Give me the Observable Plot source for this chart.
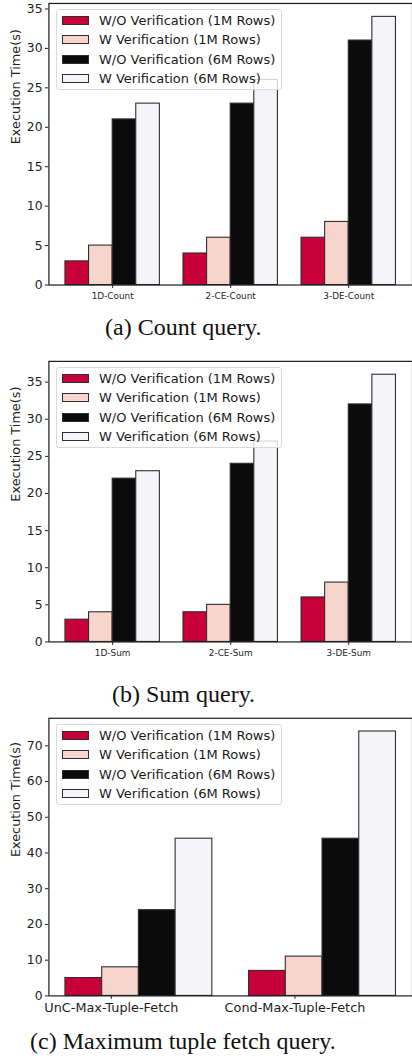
<!DOCTYPE html>
<html>
<head>
<meta charset="utf-8">
<script src="https://cdn.jsdelivr.net/npm/d3@7"></script>
<script src="https://cdn.jsdelivr.net/npm/@observablehq/plot@0.6"></script>
<style>
  body { margin: 0; background: #fff; }
  #page { position: relative; width: 412px; height: 1059px; overflow: hidden; background: #fff; }
  .panel { position: absolute; left: 0; }
  .legend {
    position: absolute; left: 56px; width: 226px; height: 81px;
    border: 1px solid #d9d9d9; border-radius: 3px; background: rgba(255,255,255,0.8);
    box-sizing: border-box; font-family: "DejaVu Sans", sans-serif; font-size: 13px; color: #1a1a1a;
  }
  .legend .row { position: absolute; left: 0; height: 19px; display: flex; align-items: center; white-space: nowrap; }
  .legend .sw { width: 27px; height: 9px; border: 1px solid #2e2e2e; box-sizing: border-box; margin-left: 5px; margin-right: 10px; }
  .caption { position: absolute; font-family: "Liberation Serif", "Times New Roman", serif; font-size: 24px; line-height: 24px; color: #111; white-space: nowrap; }
</style>
</head>
<body>
<div id="page"></div>
<script>
// Series shared by all three panels
const seriesNames = [
  "W/O Verification (1M Rows)",
  "W Verification (1M Rows)",
  "W/O Verification (6M Rows)",
  "W Verification (6M Rows)"
];
const seriesColors = ["#c8003a", "#f7d4cc", "#0b0b0b", "#f4f4f9"];

// (a) Count query
const countQueries = ["1D-Count", "2-CE-Count", "3-DE-Count"];
const countWo1M = [3, 4, 6];
const countW1M = [5, 6, 8];
const countWo6M = [21, 23, 31];
const countW6M = [23, 26, 34];
const countTicks = [0, 5, 10, 15, 20, 25, 30, 35];

// (b) Sum query
const sumQueries = ["1D-Sum", "2-CE-Sum", "3-DE-Sum"];
const sumWo1M = [3, 4, 6];
const sumW1M = [4, 5, 8];
const sumWo6M = [22, 24, 32];
const sumW6M = [23, 27, 36];
const sumTicks = [0, 5, 10, 15, 20, 25, 30, 35];

// (c) Maximum tuple fetch query
const fetchQueries = ["UnC-Max-Tuple-Fetch", "Cond-Max-Tuple-Fetch"];
const fetchWo1M = [5, 7];
const fetchW1M = [8, 11];
const fetchWo6M = [24, 44];
const fetchW6M = [44, 74];
const fetchTicks = [0, 10, 20, 30, 40, 50, 60, 70];

const yLabel = "Execution Time(s)";
const captions = ["(a) Count query.", "(b) Sum query.", "(c) Maximum tuple fetch query."];

const page = document.getElementById("page");
const BAR = 0.2; // bar width in group units

function drawPanel({queries, series, yTicks, tickShift, xFont, xPad, svgTop, plotTop, plotBottom, caption, capLeft, capTop}) {
  const rows = [];
  series.forEach((vals, s) => vals.forEach((v, g) => rows.push({g, s, v})));
  const n = queries.length;
  const lo = -2 * BAR, hi = n - 1 + 2 * BAR, pad = 0.05 * (hi - lo);
  const yMax = d3.max(rows, d => d.v) * 1.05;
  const marginBottom = 34;
  const height = plotBottom - svgTop + marginBottom;

  const chart = Plot.plot({
    width: 417,
    height,
    marginLeft: 49,
    marginRight: 0,
    marginTop: plotTop - svgTop,
    marginBottom,
    x: {domain: [lo - pad, hi + pad], axis: null},
    y: {domain: [0, yMax], axis: null},
    style: {fontFamily: "DejaVu Sans, sans-serif", background: "transparent", color: "#1e1e1e", overflow: "visible"},
    marks: [
      Plot.rect(rows, {
        x1: d => d.g + (d.s - 2) * BAR,
        x2: d => d.g + (d.s - 1) * BAR,
        y1: 0,
        y2: "v",
        fill: d => seriesColors[d.s],
        stroke: "#2e2e2e",
        strokeWidth: 1.1
      }),
      Plot.frame({stroke: "#1a1a1a", strokeWidth: 1.2}),
      Plot.axisY(yTicks, {tickSize: 3.5, tickPadding: 3, fontSize: 12.5, label: null}),
      Plot.axisX(queries.map((q, i) => i + tickShift), {
        tickSize: 3.5, tickPadding: xPad, fontSize: xFont, label: null,
        tickFormat: d => queries[Math.round(d - tickShift)]
      }),
      Plot.text([yLabel], {frameAnchor: "left", rotate: -90, dx: -33, fontSize: 13, fill: "#1e1e1e", text: d => d})
    ]
  });

  const wrap = document.createElement("div");
  wrap.className = "panel";
  wrap.style.top = svgTop + "px";
  wrap.appendChild(chart);
  page.appendChild(wrap);

  // legend in the upper-left corner of the axes
  const lg = document.createElement("div");
  lg.className = "legend";
  lg.style.top = (plotTop + 6) + "px";
  seriesNames.forEach((name, i) => {
    const row = document.createElement("div");
    row.className = "row";
    row.style.top = (1 + i * 19.3) + "px";
    const sw = document.createElement("div");
    sw.className = "sw";
    sw.style.background = seriesColors[i];
    const tx = document.createElement("span");
    tx.textContent = name;
    row.appendChild(sw);
    row.appendChild(tx);
    lg.appendChild(row);
  });
  page.appendChild(lg);

  const cap = document.createElement("div");
  cap.className = "caption";
  cap.style.left = capLeft + "px";
  cap.style.top = capTop + "px";
  cap.textContent = caption;
  page.appendChild(cap);
}

drawPanel({
  queries: countQueries, series: [countWo1M, countW1M, countWo6M, countW6M], yTicks: countTicks,
  tickShift: 0, xFont: 9, xPad: 4, svgTop: 0, plotTop: 3, plotBottom: 288,
  caption: captions[0], capLeft: 105, capTop: 315
});
drawPanel({
  queries: sumQueries, series: [sumWo1M, sumW1M, sumWo6M, sumW6M], yTicks: sumTicks,
  tickShift: 0, xFont: 9, xPad: 4, svgTop: 350, plotTop: 361, plotBottom: 645,
  caption: captions[1], capLeft: 112, capTop: 682
});
drawPanel({
  queries: fetchQueries, series: [fetchWo1M, fetchW1M, fetchWo6M, fetchW6M], yTicks: fetchTicks,
  tickShift: -0.15, xFont: 13, xPad: 4, svgTop: 700, plotTop: 718, plotBottom: 999,
  caption: captions[2], capLeft: 30, capTop: 1029
});
</script>
</body>
</html>
